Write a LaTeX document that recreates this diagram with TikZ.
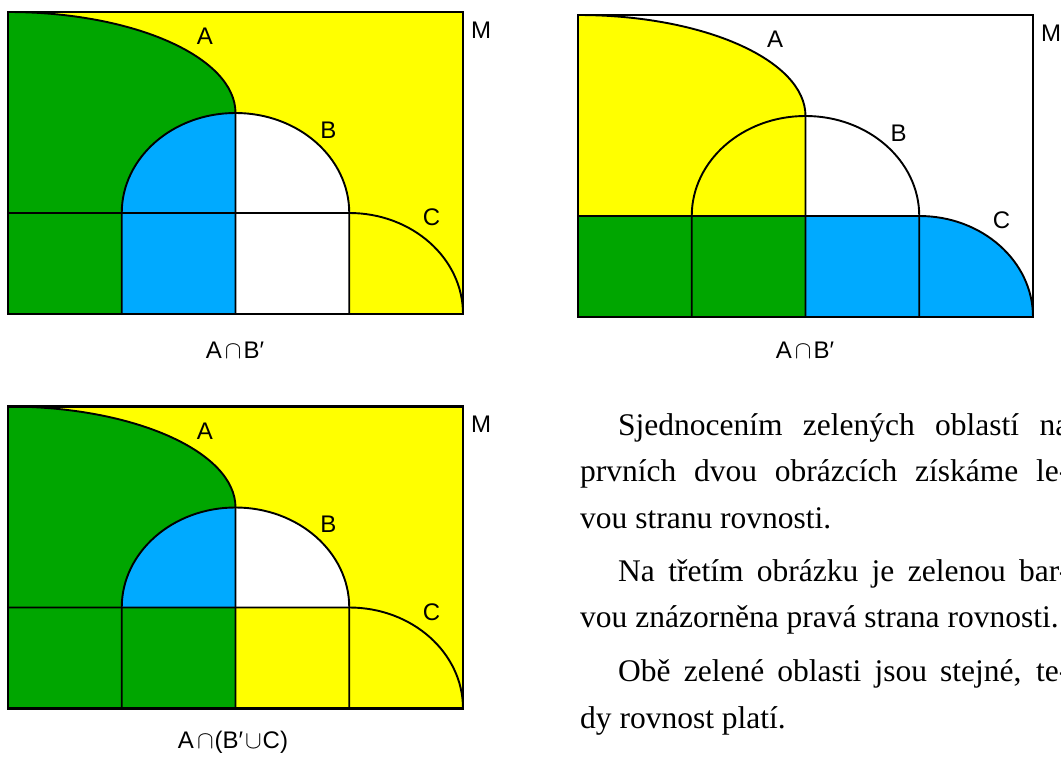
\documentclass[tikz,border=0pt]{standalone}
\usepackage{fontspec}
\setmainfont{Liberation Serif}
\newfontfamily\lsans{Liberation Sans}
\definecolor{vgreen}{RGB}{0,166,0}
\definecolor{vblue}{RGB}{0,170,255}
\definecolor{vyellow}{RGB}{255,255,0}
\tikzset{
  outline/.style={draw=black, line width=1.9pt},
  frame/.style={draw=black, line width=2.4pt},
  lbl/.style={font=\lsans\fontsize{24}{24}\selectfont, inner sep=0pt},
  body/.style={font=\fontsize{31.5}{31.5}\selectfont, inner sep=0pt, anchor=base west},
}
\newcommand\vennlines{%
  \draw[outline] (8,12) arc[start angle=-90,end angle=0,x radius=227.5,y radius=101] -- (235.5,314);
  \draw[outline] (121.75,314) -- (121.75,213) arc[start angle=180,end angle=360,x radius=113.75,y radius=100] -- (349.25,314);
  \draw[outline] (8,213) -- (349.25,213) arc[start angle=-90,end angle=0,x radius=113.75,y radius=101];
  \draw[frame] (8,12) rectangle (463,314);
}
\newcommand\vennlabels[1]{%
  \node[lbl] (A#1) at (205,36.5) {A};
  \node[lbl] (B#1) at (328.5,130) {B};
  \node[lbl] (C#1) at (431.5,217.5) {C};
  \node[lbl] (M#1) at (481,30) {M};
}
\begin{document}
\begin{tikzpicture}[x=1pt,y=-1pt]
\useasboundingbox (0,0) rectangle (1061,757);
\fill[white] (0,0) rectangle (1061,757);
% diagram 1
\begin{scope}
  \fill[vyellow] (8,12) rectangle (463,314);
  \fill[vgreen] (8,12) arc[start angle=-90,end angle=0,x radius=227.5,y radius=101] -- (235.5,314) -- (8,314) -- cycle;
  \fill[vblue] (121.75,314) -- (121.75,213) arc[start angle=180,end angle=270,x radius=113.75,y radius=100] -- (235.5,314) -- cycle;
  \fill[white] (235.5,113) arc[start angle=270,end angle=360,x radius=113.75,y radius=100] -- (349.25,314) -- (235.5,314) -- cycle;
  \vennlines
  \vennlabels{1}
\end{scope}
% diagram 2
\begin{scope}[shift={(570,3)}]
  \fill[white] (8,12) rectangle (463,314);
  \fill[vyellow] (8,12) arc[start angle=-90,end angle=0,x radius=227.5,y radius=101] -- (235.5,314) -- (8,314) -- cycle;
  \fill[vgreen] (8,213) rectangle (235.5,314);
  \fill[vblue] (235.5,213) -- (349.25,213) arc[start angle=-90,end angle=0,x radius=113.75,y radius=101] -- (235.5,314) -- cycle;
  \vennlines
  \vennlabels{2}
\end{scope}
% diagram 3
\begin{scope}[shift={(0,394.5)}]
  \fill[vyellow] (8,12) rectangle (463,314);
  \fill[vgreen] (8,12) arc[start angle=-90,end angle=0,x radius=227.5,y radius=101] -- (235.5,314) -- (8,314) -- cycle;
  \fill[vblue] (121.75,213) arc[start angle=180,end angle=270,x radius=113.75,y radius=100] -- (235.5,213) -- cycle;
  \fill[white] (235.5,113) arc[start angle=270,end angle=360,x radius=113.75,y radius=100] -- (235.5,213) -- cycle;
  \vennlines
  \vennlabels{3}
\end{scope}
% captions
\node[lbl] (cap1) at (235,350) {A\hspace{3pt}$\cap$\hspace{2pt}B′};
\node[lbl] (cap2) at (805,350) {A\hspace{3pt}$\cap$\hspace{2pt}B′};
\node[lbl] (cap3) at (233,742) {A\hspace{3pt}$\cap$\hspace{1pt}(B′\hspace{2pt}$\cup$\hspace{1pt}C)};
% text
\node[body] (t1) at (618,435) {\makebox[451pt][s]{Sjednocením zelených oblastí na}};
\node[body] (t2) at (580,481.5) {\makebox[489pt][s]{prvních dvou obrázcích získáme le-}};
\node[body] (t3) at (580,528) {vou stranu rovnosti.};
\node[body] (t4) at (618,581.5) {\makebox[451pt][s]{Na třetím obrázku je zelenou bar-}};
\node[body] (t5) at (580,627.5) {vou znázorněna pravá strana rovnosti.};
\node[body] (t6) at (618,681.5) {\makebox[451pt][s]{Obě zelené oblasti jsou stejné, te-}};
\node[body] (t7) at (580,728.5) {dy rovnost platí.};
\end{tikzpicture}
\end{document}
